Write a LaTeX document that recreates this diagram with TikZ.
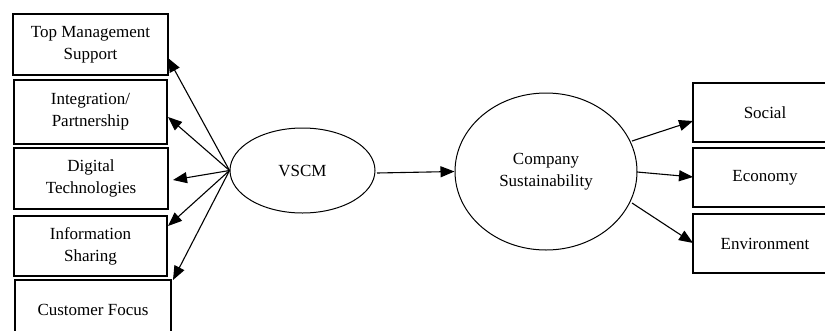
\documentclass[tikz,border=0pt]{standalone}
\usepackage{fontspec}
\setmainfont{Liberation Serif}
\usetikzlibrary{arrows.meta,shapes.geometric}
\begin{document}
\begin{tikzpicture}[x=1pt,y=-1pt,
  box/.style={draw,line width=1.2pt},
  lbl/.style={align=center,font=\fontsize{17}{22}\selectfont,inner sep=0pt},
  arr/.style={line width=1.1pt,-{Triangle[length=14pt,width=11pt]}},
  ell/.style={draw,line width=1pt}]
\useasboundingbox (0,0) rectangle (825,330);
\clip (0,0) rectangle (825,330);
% left boxes
\draw[box] (13,14) rectangle (168,75);
\draw[box] (14,80) rectangle (167,144);
\draw[box] (14,148) rectangle (168,209);
\draw[box] (14,216) rectangle (167,276);
\draw[box] (15,280) rectangle (171,345);
\node[lbl] (b1) at (90.5,44.5) {Top Management\\Support};
\node[lbl] (b2) at (90.5,112) {Integration/\\Partnership};
\node[lbl] (b3) at (91,178.5) {Digital\\Technologies};
\node[lbl] (b4) at (90.5,246) {Information\\Sharing};
\node[lbl] (b5) at (93,310) {Customer Focus};
% right boxes
\draw[box] (693,83) rectangle (845,142);
\draw[box] (693,148) rectangle (845,207);
\draw[box] (693,214) rectangle (845,273);
\node[lbl] (s) at (765,112.5) {Social};
\node[lbl] (e) at (765,177.5) {Economy};
\node[lbl] (v) at (765,243.5) {Environment};
% ellipses
\node[ell,ellipse,minimum width=145pt,minimum height=85pt,inner sep=0pt] (vscm) at (302.5,170.5) {};
\node[lbl] at (vscm.center) {VSCM};
\node[ell,ellipse,minimum width=182pt,minimum height=157pt,inner sep=0pt] (cs) at (546,171.5) {};
\node[lbl] at (cs.center) {Company\\Sustainability};
% tips
\coordinate (t1) at (168,58);
\coordinate (t2) at (168,117);
\coordinate (t3) at (173,180);
\coordinate (t4) at (168,226);
\coordinate (t5) at (173,280);
\coordinate (o) at (vscm.west);
\foreach \t in {t1,t2,t3,t4,t5} \draw[arr] (o) -- (\t);
\coordinate (cs1) at (632,141);
\coordinate (cs2) at (637,172);
\coordinate (cs3) at (632,203);
\coordinate (r1) at (693,121);
\coordinate (r2) at (693,177);
\coordinate (r3) at (693,243);
\draw[arr] (377,173) -- (cs.west);
\draw[arr] (cs1) -- (r1);
\draw[arr] (cs2) -- (r2);
\draw[arr] (cs3) -- (r3);
\end{tikzpicture}
\end{document}
